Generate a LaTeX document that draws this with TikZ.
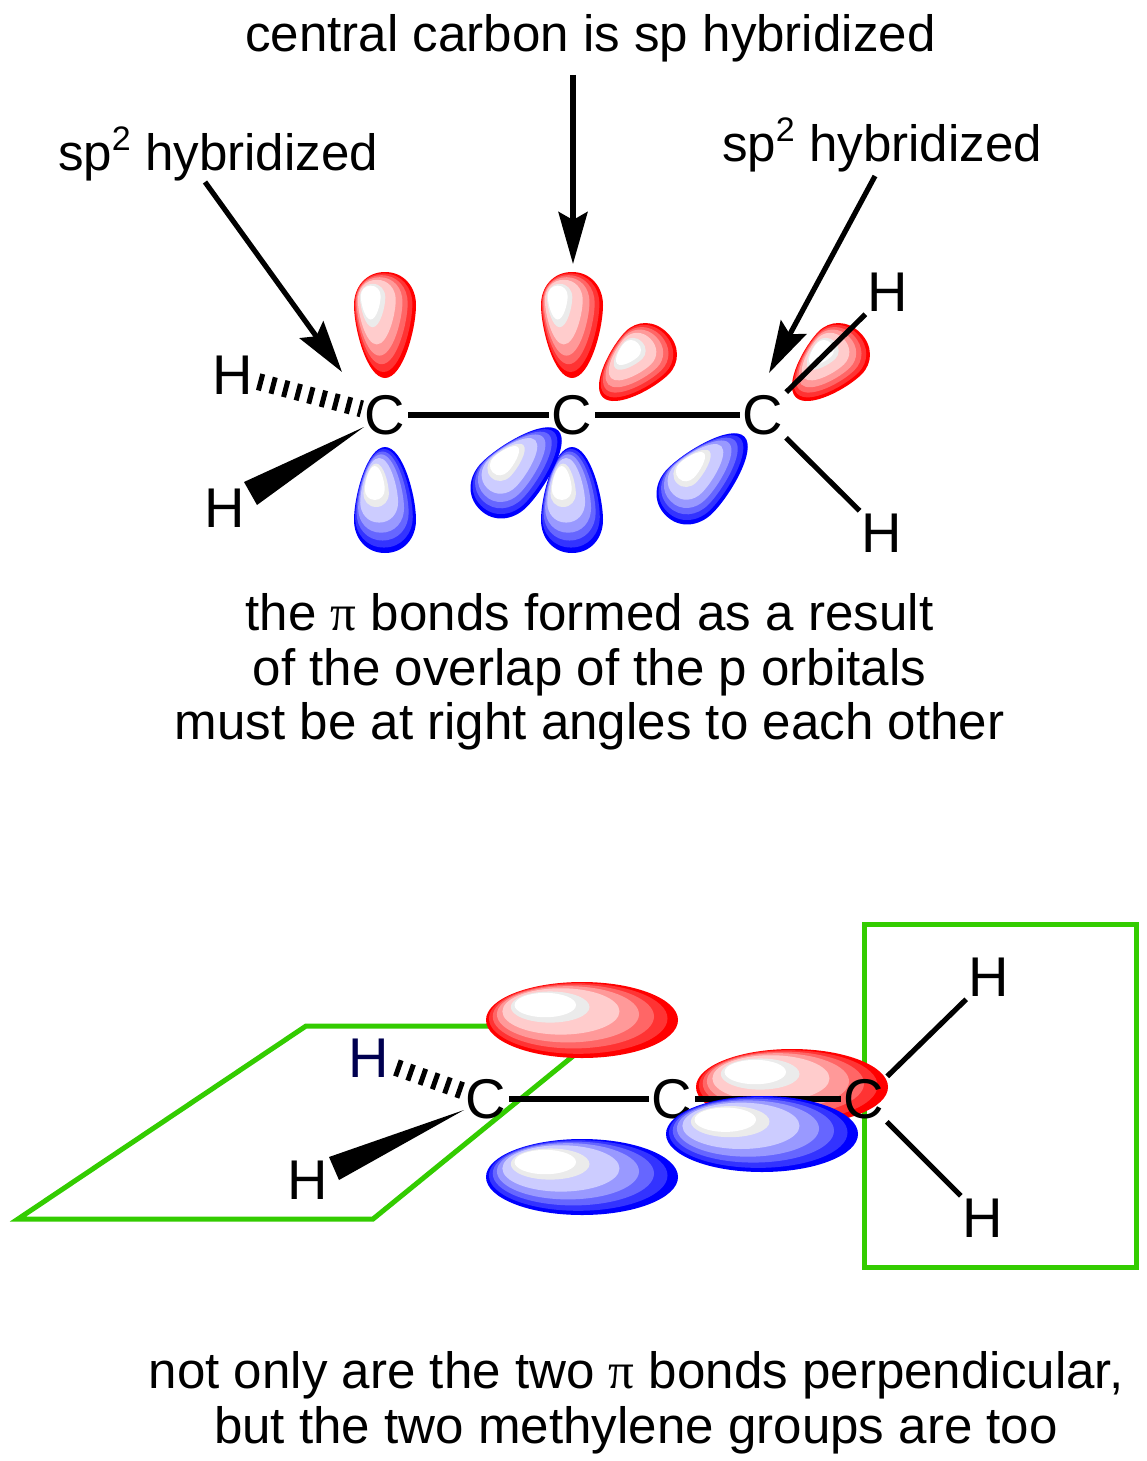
\documentclass[tikz,border=0pt]{standalone}
\usepackage{fontspec}
\setmainfont{Liberation Sans}
\newfontfamily\pifont{Liberation Serif}
\usetikzlibrary{arrows.meta}
\definecolor{R0}{HTML}{FF0000}\definecolor{R1}{HTML}{FF3333}\definecolor{R2}{HTML}{FF6666}
\definecolor{R3}{HTML}{FF9999}\definecolor{R4}{HTML}{FFCCCC}\definecolor{R5}{HTML}{EBEBEB}\definecolor{R6}{HTML}{FFFFFF}
\definecolor{B0}{HTML}{0000FF}\definecolor{B1}{HTML}{3333FF}\definecolor{B2}{HTML}{6666FF}
\definecolor{B3}{HTML}{9999FF}\definecolor{B4}{HTML}{CCCCFF}\definecolor{B5}{HTML}{EBEBEB}\definecolor{B6}{HTML}{FFFFFF}
\definecolor{planegreen}{HTML}{33CC00}
\definecolor{navyH}{HTML}{000050}
\newcommand{\teardrop}{(0,-53) .. controls (19,-53) and (31,-38) .. (31,-20) .. controls (31,4) and (18,53) .. (0,53) .. controls (-18,53) and (-31,4) .. (-31,-20) .. controls (-31,-38) and (-19,-53) .. (0,-53) -- cycle}
\newcommand{\flatlobe}{(0,0) ellipse [x radius=96,y radius=38]}
% ramp, fixed x, fixed y, centre x, centre y, local options, shape
\newcommand{\orbital}[7]{%
  \foreach \lscale/\lnum in {1/0,.93/1,.84/2,.74/3,.61/4,.41/5,.32/6}{%
    \fill[fill=#1\lnum,shift={(#2,#3)},scale=\lscale,shift={(-#2,-#3)},shift={(#4,#5)},#6] #7;
  }%
}
\tikzset{
  atom/.style={font=\fontsize{28}{32}\selectfont,inner sep=1.5pt,outer sep=0pt},
  caption/.style={font=\fontsize{25.55}{27.25}\selectfont,align=center,inner sep=0pt,outer sep=0pt},
  bond/.style={line width=2.6pt},
  hashbond/.style={line width=8.5pt,dash pattern=on 2.5pt off 4pt},
  wedgebond/.style={fill=black},
  pointer/.style={line width=2.6pt,-{Stealth[length=26pt,width=14.5pt,inset=4pt]}},
  plane/.style={draw=planegreen,line width=2.5pt,line join=miter}
}
\newcommand{\supertwo}{\raisebox{10pt}{\fontsize{17}{18}\selectfont 2}}
\begin{document}
\begin{tikzpicture}[x=0.5pt,y=-0.5pt]
\useasboundingbox[fill=white] (0,0) rectangle (1146,1461);

% ---- top panel
\orbital{R}{364}{292}{385}{325}{}{\teardrop}
\orbital{R}{551}{292}{572}{325}{}{\teardrop}
\orbital{R}{624}{348}{635}{365}{rotate=-45,xscale=.98,yscale=.86}{\teardrop}
\orbital{R}{817}{348}{828}{365}{rotate=-45,xscale=.98,yscale=.86}{\teardrop}
\orbital{B}{370}{475}{385}{500}{rotate=180}{\teardrop}
\orbital{B}{557}{475}{572}{500}{rotate=180}{\teardrop}
\orbital{B}{499}{455}{519}{470}{rotate=135,xscale=1.02,yscale=1.05}{\teardrop}
\orbital{B}{685}{461}{705}{476}{rotate=135,xscale=1.02,yscale=1.05}{\teardrop}

\node[atom] (c1) at (385,415) {C};
\node[atom] (c2) at (572,415) {C};
\node[atom] (c3) at (763,415) {C};
\node[atom] (h1) at (233,375) {H};
\node[atom] (h2) at (225,508) {H};
\node[atom] (h3) at (888,292) {H};
\node[atom] (h4) at (882,533) {H};

\draw[bond] (c1) -- (c2);
\draw[bond] (c2) -- (c3);
\draw[bond] (c3) -- (h3);
\draw[bond] (c3) -- (h4);
\draw[hashbond,shorten <=1pt] (h1) -- (c1);
\coordinate (w1tip) at (364,427);
\coordinate (w1a) at (244,482);
\coordinate (w1b) at (257,505);
\fill[wedgebond] (w1tip) -- (w1a) -- (w1b) -- cycle;

\node[caption] (t1) at (590.5,38) {central carbon is sp hybridized};
\node[caption] (t2) at (218,154) {sp\supertwo{} hybridized};
\node[caption] (t3) at (882,145) {sp\supertwo{} hybridized};
\node[caption] (t4) at (589.5,672) {the {\pifont π} bonds formed as a result\\of the overlap of the p orbitals\\must be at right angles to each other};

\coordinate (a1s) at (205,182);
\coordinate (a1e) at (342,372);
\coordinate (a2s) at (573,75);
\coordinate (a2e) at (573,264);
\coordinate (a3s) at (875,176);
\coordinate (a3e) at (769,373);
\draw[pointer] (a1s) -- (a1e);
\draw[pointer] (a2s) -- (a2e);
\draw[pointer] (a3s) -- (a3e);

% ---- bottom panel
\coordinate (p1) at (306,1026);
\coordinate (p2) at (610,1026);
\coordinate (p3) at (373,1219);
\coordinate (p4) at (18,1219);
\draw[plane] (p1) -- (p2) -- (p3) -- (p4) -- cycle;
\coordinate (q1) at (864,924.5);
\coordinate (q2) at (1136,1267.5);
\draw[plane] (q1) rectangle (q2);

\orbital{R}{528}{998}{582}{1020}{}{\flatlobe}
\orbital{B}{528}{1155}{582}{1177}{}{\flatlobe}
\orbital{R}{738}{1065}{792}{1087}{}{\flatlobe}

\node[atom] (c4) at (486,1099) {C};
\node[atom] (c5) at (672,1099) {C};
\node[atom] (c6) at (864,1099) {C};
\node[atom,text=navyH] (h5) at (369,1058) {H};
\node[atom] (h6) at (308,1180) {H};
\node[atom] (h7) at (989,977) {H};
\node[atom] (h8) at (983,1218) {H};

\draw[bond] (c5) -- (c6);
\orbital{B}{708}{1113}{762}{1134}{}{\flatlobe}
\draw[bond] (c4) -- (c5);
\draw[bond] (c6) -- (h7);
\draw[bond] (c6) -- (h8);
\draw[hashbond,shorten <=2pt] (h5) -- (c4);
\coordinate (w2tip) at (464,1110);
\coordinate (w2a) at (329,1157);
\coordinate (w2b) at (339,1180);
\fill[wedgebond] (w2tip) -- (w2a) -- (w2b) -- cycle;

\node[caption] (t5) at (636,1403) {not only are the two {\pifont π} bonds perpendicular,\\but the two methylene groups are too};
\end{tikzpicture}
\end{document}
